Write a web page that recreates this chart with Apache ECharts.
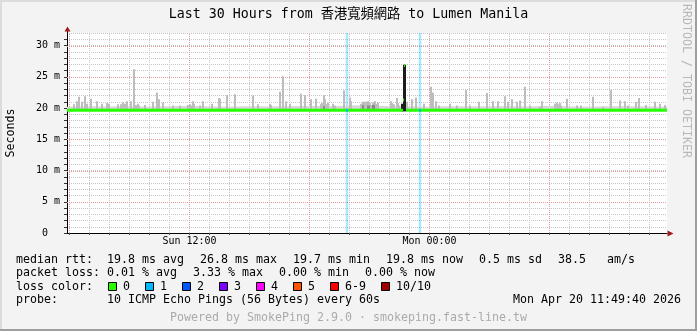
<!DOCTYPE html>
<html><head><meta charset="utf-8">
<script src="https://cdn.jsdelivr.net/npm/echarts@6/dist/echarts.min.js"></script>
<style>html,body{margin:0;padding:0;background:#f3f3f3}#c{width:697px;height:331px}</style>
</head><body><div id="c"></div>
<script>
// ---------- data (hours since Sun 00:00, values in ms) ----------
const titleText = 'Last 30 Hours from 香港寬頻網路 to Lumen Manila';
const startHour = 5.88;
const endHour = 35.88;
const yMax = 32;
const yMajor = [5, 10, 15, 20, 25, 30];
const hourTicks = [6,7,8,9,10,11,12,13,14,15,16,17,18,19,20,21,22,23,24,25,26,27,28,29,30,31,32,33,34,35];
const majorHours = [6, 12, 18, 24, 30];
const xLabelHours = [12, 24];
const xLabelTexts = ['Sun 12:00', 'Mon 00:00'];
const sampleHours = 5 / 60;
const baselineMs = 19.65;

const smokeSpikes = [
[6.23,20.6],[6.38,21.1],[6.48,21.8],[6.63,21.0],[6.78,21.9],[6.88,20.7],[7.08,21.5],[7.38,21.1],[7.63,20.7],[7.88,20.8],
[7.98,20.7],[8.43,20.6],[8.58,20.6],[8.68,20.9],[8.78,20.7],[8.88,21.1],[9.08,21.1],[9.23,26.2],[9.33,20.5],[9.43,20.7],
[9.5,20.4],[9.78,20.5],[10.18,21.0],[10.38,22.5],[10.48,21.4],[10.68,20.9],[11.18,20.4],[11.53,20.4],[11.93,20.5],[12.03,20.6],
[12.1,20.4],[12.18,21.1],[12.25,20.7],[12.53,20.4],[12.68,21.1],[13.13,20.7],[13.48,21.6],[13.53,21.5],[13.88,22.1],[14.28,22.2],
[15.18,22.0],[15.43,20.6],[16.03,20.7],[16.08,20.5],[16.53,22.6],[16.68,25.1],[16.83,21.1],[17.03,20.7],[17.58,22.3],[17.78,22.1],
[18.08,21.4],[18.33,21.5],[18.58,20.6],[18.63,20.8],[18.73,22.1],[18.78,21.4],[18.88,20.6],[18.95,20.9],[19.18,20.7],[19.28,20.4],
[19.73,22.8],[20.03,21.7],[20.08,21.1],[20.6,20.7],[20.68,21.0],[20.73,20.6],[20.78,21.0],[20.83,20.9],[20.88,21.0],[20.95,21.1],
[21.03,20.8],[21.13,20.5],[21.2,20.9],[21.28,21.1],[21.38,20.7],[21.45,20.9],[22.08,21.1],[22.15,20.8],[22.25,20.6],[22.38,21.6],
[22.45,20.8],[22.48,20.4],[22.88,21.0],[23.13,21.4],[23.33,21.7],[23.73,20.7],[24.08,23.4],[24.18,22.5],[24.33,21.1],[24.48,20.4],
[25.03,20.7],[25.38,20.4],[25.83,22.9],[26.03,20.4],[26.48,21.0],[26.88,22.4],[27.18,21.1],[27.43,21.1],[27.78,21.9],[27.93,21.0],
[28.13,21.4],[28.38,21.0],[28.53,21.2],[28.78,23.4],[29.03,20.4],[29.53,20.2],[29.63,21.1],[30.3,20.7],[30.38,20.9],[30.45,20.6],
[30.52,20.8],[30.58,20.4],[30.88,21.5],[31.38,20.4],[31.58,20.4],[32.18,21.8],[32.68,20.2],[33.08,22.9],[33.53,21.2],[33.78,21.1],
[33.93,20.4],[34.33,21.0],[34.48,21.6],[34.83,20.5],[35.28,21.0],[35.53,20.7],[35.78,20.5]
];
const smokeDense = [[18.7,18.8,20.3],[20.62,20.75,20.5],[20.9,21.05,20.4],[21.15,21.3,20.5]];
const smokeBlack = [[22.6,22.66,20.7],[22.66,22.83,26.9]];
const fringe = [
[5.88,20.2],[7,20.3],[8,20.25],[9,20.3],[10,20.2],[11,20.3],[12,20.35],[13,20.25],[14,20.2],[15,20.3],[16,20.25],
[17,20.3],[18,20.35],[19,20.3],[20,20.4],[21,20.45],[22,20.3],[23,20.25],[24,20.2],[25,20.3],[26,20.25],[27,20.3],
[28,20.3],[29,20.25],[30,20.35],[31,20.25],[32,20.2],[33,20.3],[34,20.3],[35,20.25],[35.88,20.2]
];
// [from, to, median ms, loss level index]
const medianSegments = [
[5.88,22.66,19.65,0],[22.66,22.72,21.3,0],[22.72,22.8,26.8,0],[22.83,35.88,19.65,0],
[19.84,19.92,19.65,1],[23.49,23.57,19.65,1]
];
const lossBars = [[19.88,1],[23.53,1]];

const statLabels = ['median rtt:', 'packet loss:', 'loss color:', 'probe:'];
const rttStats = ['19.8 ms avg', '26.8 ms max', '19.7 ms min', '19.8 ms now', '0.5 ms sd'];
const amsValue = '38.5';
const amsUnit = 'am/s';
const lossStats = ['0.01 % avg', '3.33 % max', '0.00 % min', '0.00 % now'];
const lossColorNames = ['0', '1', '2', '3', '4', '5', '6-9', '10/10'];
const lossColors = ['#26ff00', '#00b8ff', '#0059ff', '#7e00ff', '#ff00ff', '#ff5500', '#ff0000', '#a00000'];
const probeText = '10 ICMP Echo Pings (56 Bytes) every 60s';
const stampText = 'Mon Apr 20 11:49:40 2026';
const footerText = 'Powered by SmokePing 2.9.0 · smokeping.fast-line.tw';
const watermarkText = 'RRDTOOL / TOBI OETIKER';
const yAxisName = 'Seconds';

// ---------- styles ----------
const MONO = '"DejaVu Sans Mono","Noto Sans CJK TC",monospace';
const FS = 11.63, FS_AXIS = 9.97, FS_TITLE = 13.29;
const GRID_MINOR = '#c6c6c6', GRID_MAJOR = '#e39a9a', ARROW = '#a01818';

function txt(text, x, y, opts) {
  return Object.assign({type: 'text', x: x, y: y, silent: true, z: 10,
    style: Object.assign({text: text, fontSize: FS, fontFamily: MONO, fill: '#000',
      align: 'left', verticalAlign: 'middle'}, (opts && opts.style) || {})},
    opts && opts.rotation !== undefined ? {rotation: opts.rotation} : {});
}

const graphics = [];
graphics.push({type:'rect', shape:{x:0,y:0,width:697,height:2}, style:{fill:'#dcdcdc'}, silent:true});
graphics.push({type:'rect', shape:{x:0,y:0,width:2,height:331}, style:{fill:'#dcdcdc'}, silent:true});
graphics.push({type:'rect', shape:{x:0,y:329,width:697,height:2}, style:{fill:'#9e9e9e'}, silent:true});
graphics.push({type:'rect', shape:{x:695,y:0,width:2,height:331}, style:{fill:'#9e9e9e'}, silent:true});
graphics.push(txt(titleText, 348.5, 15, {style:{fontSize: FS_TITLE, align:'center'}}));
graphics.push(txt(watermarkText, 686, 81, {rotation: -Math.PI/2, style:{fill:'#b8b8b8', align:'center'}}));
const rows = [259.5, 273, 286.5, 300];
statLabels.forEach((s, i) => graphics.push(txt(s, 16, rows[i])));
rttStats.forEach((s, i) => graphics.push(txt(s, 107 + i * 93, rows[0])));
graphics.push(txt(amsValue, 558, rows[0]));
graphics.push(txt(amsUnit, 607, rows[0]));
lossStats.forEach((s, i) => graphics.push(txt(s, 107 + i * 86, rows[1])));
let bx = 108;
lossColorNames.forEach((name, i) => {
  graphics.push({type:'rect', shape:{x: bx + 0.5, y: 282.5, width: 8, height: 8},
    style:{fill: lossColors[i], stroke:'#000', lineWidth:1}, silent:true, z:10});
  graphics.push(txt(name, bx + 15, rows[2]));
  bx += 15 + name.length * 7 + 15;
});
graphics.push(txt(probeText, 107, rows[3]));
graphics.push(txt(stampText, 681, rows[3], {style:{align:'right'}}));
graphics.push(txt(footerText, 348.5, 318, {style:{fill:'#ababab', align:'center'}}));

function spanRect(api, h0, h1, v0, v1, fill) {
  const a = api.coord([h0, v1]), b = api.coord([h1, v0]);
  const x0 = Math.round(a[0]), x1 = Math.max(x0 + 1, Math.round(b[0]));
  return {type:'rect', shape:{x:x0, y:a[1], width:x1 - x0, height:b[1] - a[1]}, style:{fill:fill}};
}

const chart = echarts.init(document.getElementById('c'), null, {renderer:'canvas'});
chart.setOption({
  animation: false,
  backgroundColor: '#f3f3f3',
  grid: {left: 67, right: 30, top: 33, bottom: 98, show: true, backgroundColor: '#ffffff',
         borderWidth: 0, containLabel: false, outerBoundsMode: 'none'},
  xAxis: {
    type: 'value', min: startHour, max: endHour,
    axisLine: {show: true, onZero: false, lineStyle: {color: '#000', width: 1}},
    axisTick: {show: true, customValues: hourTicks, length: 2, lineStyle: {color: '#555'}},
    axisLabel: {show: true, customValues: xLabelHours, margin: 3, fontSize: FS_AXIS, fontFamily: MONO, color: '#000',
      formatter: v => { const i = xLabelHours.indexOf(v); return i >= 0 ? xLabelTexts[i] : ''; }},
    splitLine: {show: false}
  },
  yAxis: {
    type: 'value', min: 0, max: yMax, interval: 1,
    name: yAxisName, nameLocation: 'middle', nameRotate: 90, nameGap: 50,
    nameTextStyle: {fontSize: FS, fontFamily: MONO, color: '#000'},
    axisLine: {show: true, lineStyle: {color: '#000', width: 1}},
    axisTick: {show: true, length: 3, lineStyle: {color: '#333'}},
    axisLabel: {margin: 7, fontSize: FS_AXIS, fontFamily: MONO, color: '#000', showMaxLabel: false,
      formatter: v => (v % 5 === 0 ? (v === 0 ? '0  ' : v + ' m') : '')},
    splitLine: {show: true, lineStyle: {color: GRID_MINOR, width: 1, type: [1, 1]}}
  },
  graphic: {elements: graphics},
  series: [
    {
      type: 'custom', z: 1, silent: true, clip: true,
      data: hourTicks.map(h => [h, 0]), encode: {x: 0, y: 1},
      renderItem: (p, api) => {
        const h = api.value(0);
        const a = api.coord([h, 0]), b = api.coord([h, yMax]);
        const x = Math.round(a[0]) + 0.5;
        const major = majorHours.indexOf(h) >= 0;
        return {type:'line', shape:{x1:x, y1:a[1], x2:x, y2:b[1]},
          style:{stroke: major ? GRID_MAJOR : GRID_MINOR, lineWidth:1, lineDash:[1,1]}};
      }
    },
    {
      type: 'custom', z: 1, silent: true, clip: true,
      data: yMajor.map(v => [startHour, v]), encode: {x: 0, y: 1},
      renderItem: (p, api) => {
        const v = api.value(1);
        const a = api.coord([startHour, v]), b = api.coord([endHour, v]);
        const y = Math.round(a[1]) + 0.5;
        return {type:'line', shape:{x1:a[0], y1:y, x2:b[0], y2:y},
          style:{stroke: GRID_MAJOR, lineWidth:1, lineDash:[1,1]}};
      }
    },
    {
      type: 'custom', z: 2, silent: true, clip: true,
      data: lossBars, encode: {x: 0, y: 1},
      renderItem: (p, api) => {
        const h = api.value(0), lvl = api.value(1);
        const a = api.coord([h, yMax]), b = api.coord([h, 0]);
        const c = echarts.color.modifyAlpha(lossColors[lvl], 0.33);
        return {type:'rect', shape:{x:a[0] - 1.25, y:a[1], width:2.5, height:b[1] - a[1]}, style:{fill:c}};
      }
    },
    {
      type: 'line', z: 3, silent: true, data: fringe, showSymbol: false, smooth: false,
      lineStyle: {width: 0}, areaStyle: {color: '#d6d6d6', opacity: 1, origin: baselineMs - 0.05}
    },
    {
      type: 'custom', z: 3, silent: true, clip: true,
      data: smokeSpikes, encode: {x: 0, y: 1},
      renderItem: (p, api) => {
        const h = api.value(0), top = api.value(1);
        const a = api.coord([h, top]), b = api.coord([h, baselineMs]);
        const w = Math.max(1, Math.round(api.size([sampleHours, 0])[0]));
        const x = Math.round(a[0] - w / 2);
        return {type:'rect', shape:{x:x, y:a[1], width:w, height:b[1] - a[1]}, style:{fill:'#bdbdbd'}};
      }
    },
    {
      type: 'custom', z: 4, silent: true, clip: true,
      data: smokeDense, encode: {x: [0, 1], y: 2},
      renderItem: (p, api) => spanRect(api, api.value(0), api.value(1), baselineMs, api.value(2), '#8a8a8a')
    },
    {
      type: 'custom', z: 4, silent: true, clip: true,
      data: smokeBlack, encode: {x: [0, 1], y: 2},
      renderItem: (p, api) => spanRect(api, api.value(0), api.value(1), baselineMs - 0.2, api.value(2), '#1c1c1c')
    },
    {
      type: 'custom', z: 5, silent: true, clip: true,
      data: medianSegments, encode: {x: [0, 1], y: 2},
      renderItem: (p, api) => {
        const a = api.coord([api.value(0), api.value(2)]), b = api.coord([api.value(1), api.value(2)]);
        const x0 = Math.round(a[0]), x1 = Math.max(x0 + 1, Math.round(b[0]));
        return {type:'rect', shape:{x:x0, y:a[1] - 1.5, width:x1 - x0, height:3}, style:{fill: lossColors[api.value(3)]}};
      }
    },
    {
      type: 'custom', z: 6, silent: true, clip: false,
      data: [[endHour, 0, 0], [startHour, yMax, 1]], encode: {x: 0, y: 1},
      renderItem: (p, api) => {
        const c = api.coord([api.value(0), api.value(1)]);
        const x = Math.round(c[0]) + 0.5, y = Math.round(c[1]) + 0.5;
        if (api.value(2) === 0) {
          return {type:'polygon', shape:{points:[[x, y - 3], [x + 6, y], [x, y + 3]]}, style:{fill: ARROW}};
        }
        return {type:'group', children:[
          {type:'line', shape:{x1:x, y1:y, x2:x, y2:y - 3}, style:{stroke:'#000', lineWidth:1}},
          {type:'polygon', shape:{points:[[x - 3, y - 2], [x, y - 7], [x + 3, y - 2]]}, style:{fill: ARROW}}
        ]};
      }
    }
  ]
});
</script></body></html>
